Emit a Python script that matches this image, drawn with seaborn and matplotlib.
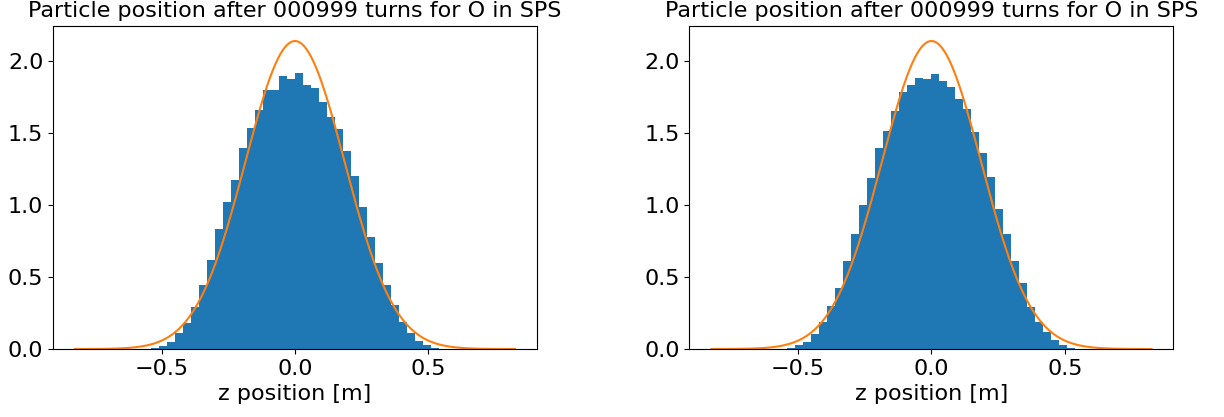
import numpy as np
import pandas as pd
import matplotlib
matplotlib.use("Agg")
import matplotlib.pyplot as plt
import seaborn as sns

# Histogram binning (m), shared by both panels
bin_range = (-0.54, 0.54)
bin_count = 36

# Normalised particle density per bin (1/m)
density_left = [0.007, 0.023, 0.049, 0.111, 0.180, 0.290, 0.444, 0.618, 0.833,
                1.020, 1.174, 1.396, 1.535, 1.660, 1.800, 1.800, 1.896, 1.875,
                1.917, 1.833, 1.812, 1.715, 1.611, 1.528, 1.375, 1.201, 0.986,
                0.778, 0.597, 0.444, 0.306, 0.188, 0.111, 0.056, 0.028, 0.007]

density_right = [0.007, 0.028, 0.049, 0.104, 0.188, 0.299, 0.424, 0.611, 0.799,
                 1.000, 1.188, 1.396, 1.514, 1.653, 1.785, 1.833, 1.882, 1.875,
                 1.910, 1.861, 1.819, 1.736, 1.667, 1.507, 1.361, 1.194, 0.972,
                 0.799, 0.611, 0.458, 0.292, 0.188, 0.118, 0.0625, 0.028, 0.007]

# Gaussian reference profile (mean, rms length in m) and its plotting span
gauss_mu = 0.0
gauss_sigma = 0.1864
gauss_span = (-0.825, 0.825)

title_text = "Particle position after 000999 turns for O in SPS"
xlabel_text = "z position [m]"

plt.rcParams["font.family"] = ["DejaVu Sans"]
plt.rcParams["font.size"] = 16

fig = plt.figure(figsize=(12.24, 4.17), dpi=100)
ax_left = fig.add_axes([0.0433, 0.163, 0.3954, 0.7755])
ax_right = fig.add_axes([0.5633, 0.163, 0.3954, 0.7755])

bin_edges = np.linspace(bin_range[0], bin_range[1], bin_count + 1)
centers = 0.5 * (bin_edges[:-1] + bin_edges[1:])
zz = np.linspace(gauss_span[0], gauss_span[1], 400)
profile = np.exp(-0.5 * ((zz - gauss_mu) / gauss_sigma) ** 2) / (gauss_sigma * np.sqrt(2 * np.pi))

for ax, dens in [(ax_left, density_left), (ax_right, density_right)]:
    df = pd.DataFrame({"z": centers, "w": dens})
    sns.histplot(data=df, x="z", weights="w", bins=bin_count, binrange=bin_range,
                 stat="count", color="#1f77b4", alpha=1.0, linewidth=0, ax=ax)
    sns.lineplot(x=zz, y=profile, color="#ff7f0e", linewidth=1.5, ax=ax)
    ax.set_title(title_text, fontsize=16)
    ax.set_xlabel(xlabel_text, fontsize=16)
    ax.set_ylabel("")
    ax.set_xticks([-0.5, 0.0, 0.5])
    ax.set_yticks([0.0, 0.5, 1.0, 1.5, 2.0])
    ax.tick_params(labelsize=16)
    ax.margins(x=0.05, y=0.05)
    ax.set_ylim(bottom=0)

fig.savefig("out.png", dpi=100)
